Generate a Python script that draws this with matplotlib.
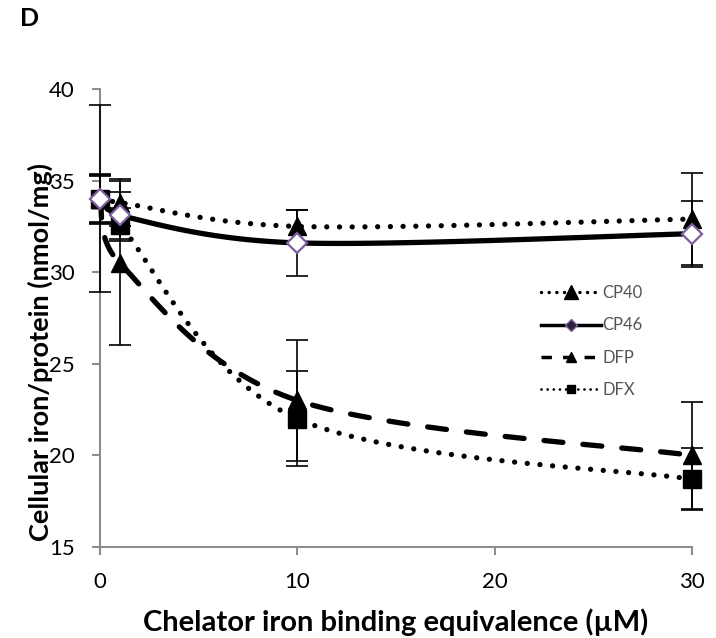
import numpy as np
import matplotlib
matplotlib.use('Agg')
import matplotlib.pyplot as plt
from matplotlib.lines import Line2D

plt.rcParams['font.family'] = ['Lato', 'DejaVu Sans']

# chelator iron binding equivalence (uM)
conc = [0, 1, 10, 30]

cp40 = [34.0, 33.8, 32.5, 32.9]
cp40_err = [1.35, 1.3, 0.9, 2.5]
cp46 = [34.0, 33.1, 31.6, 32.1]
cp46_err = [1.25, 1.3, 1.8, 1.8]
dfp = [34.0, 30.5, 23.0, 20.0]
dfp_err = [5.1, 4.5, 3.3, 2.9]
dfx = [34.0, 32.6, 22.0, 18.7]
dfx_err = [1.3, 0.9, 2.6, 1.7]

labels = ['CP40', 'CP46', 'DFP', 'DFX']

W, H = 716, 638
fig = plt.figure(figsize=(W / 100, H / 100), dpi=100)
ax = fig.add_axes([100 / W, 1 - 547 / H, 592 / W, 458 / H])
ax.set_xlim(0, 30)
ax.set_ylim(15, 40)


def smooth(xs, ys, n=40):
    # smoothed line through the points: catmull-rom bezier in screen units,
    # control arms capped so short segments don't loop back
    sx, sy = 592 / 30.0, 458 / 25.0
    P = np.column_stack([np.asarray(xs) * sx, (np.asarray(ys) - 15) * sy])
    m = len(P)
    out = [P[0]]
    t = np.linspace(0, 1, n)[1:, None]

    def arm(v, lim):
        L = np.hypot(*v)
        return v if L <= lim else v * lim / L

    for i in range(m - 1):
        seg = np.hypot(*(P[i + 1] - P[i]))
        a = arm((P[i + 1] - P[max(i - 1, 0)]) / 6, seg / 2)
        b = arm((P[min(i + 2, m - 1)] - P[i]) / 6, seg / 2)
        c1, c2 = P[i] + a, P[i + 1] - b
        pts = ((1 - t) ** 3 * P[i] + 3 * (1 - t) ** 2 * t * c1
               + 3 * (1 - t) * t ** 2 * c2 + t ** 3 * P[i + 1])
        out.extend(pts)
    out = np.array(out)
    return out[:, 0] / sx, out[:, 1] / sy + 15


dotted = (0, (0.01, 2.4))
dashed = (0, (3.6, 3.8))
lw = 3.8

series = [
    (cp40, cp40_err, dotted, dict(marker='^', ms=13, mfc='black', mec='black'), 3),
    (cp46, cp46_err, '-', dict(marker='D', ms=10, mfc='white', mec='#7b5e9c', mew=1.6), 6),
    (dfp, dfp_err, dashed, dict(marker='^', ms=13, mfc='black', mec='black'), 4),
    (dfx, dfx_err, dotted, dict(marker='s', ms=13, mfc='black', mec='black'), 5),
]

for ys, err, ls, mk, z in series:
    lx, ly = smooth(conc, ys)
    ax.plot(lx, ly, color='black', lw=lw, ls=ls, dash_capstyle='round',
            solid_capstyle='round', zorder=z, clip_on=False)
    ax.errorbar(conc, ys, yerr=err, fmt='none', ecolor='black', elinewidth=1.2,
                capsize=8, capthick=1.2, zorder=z, clip_on=False)
    ax.plot(conc, ys, ls='none', zorder=z + 0.5, clip_on=False, **mk)

for s in ['top', 'right']:
    ax.spines[s].set_visible(False)
for s in ['left', 'bottom']:
    ax.spines[s].set_color('#8c8c8c')
    ax.spines[s].set_linewidth(1.5)

ax.set_xticks([0, 10, 20, 30])
ax.set_yticks([15, 20, 25, 30, 35, 40])
ax.tick_params(direction='out', length=6, width=1.5, color='#8c8c8c',
               labelsize=16, pad=12)

ax.set_xlabel('Chelator iron binding equivalence (\u00b5M)', fontsize=21,
              fontweight='bold')
ax.xaxis.set_label_coords(0.5, -0.133)
ax.set_ylabel('Cellular iron/protein (nmol/mg)', fontsize=19.5, fontweight='bold')
ax.yaxis.set_label_coords(-0.08, 0.425)

fig.text(20 / W, 1 - 19 / H, 'D', fontsize=18, fontweight='bold', va='center')

handles = [
    Line2D([], [], color='black', lw=2.5, ls=(0, (0.01, 2.2)), dash_capstyle='round',
           marker='^', ms=10, mfc='black', mec='black'),
    Line2D([], [], color='black', lw=2.5, ls='-', marker='D', ms=6,
           mfc='#2b1f3a', mec='#7b5e9c'),
    Line2D([], [], color='black', lw=2.5, ls=(0, (3, 3.2)), marker='^', ms=7,
           mfc='black', mec='black'),
    Line2D([], [], color='black', lw=2.0, ls=(0, (0.01, 2.2)), dash_capstyle='round',
           marker='s', ms=6, mfc='black', mec='black'),
]
leg = ax.legend(handles, labels, loc='upper left', frameon=False,
                bbox_to_anchor=(541 / W, 1 - 285 / H), bbox_transform=fig.transFigure,
                fontsize=12, handlelength=3.6, handletextpad=0.1, labelspacing=0.98,
                borderpad=0, borderaxespad=0)
for t in leg.get_texts():
    t.set_color('#555555')

fig.savefig('out.png', dpi=100)
